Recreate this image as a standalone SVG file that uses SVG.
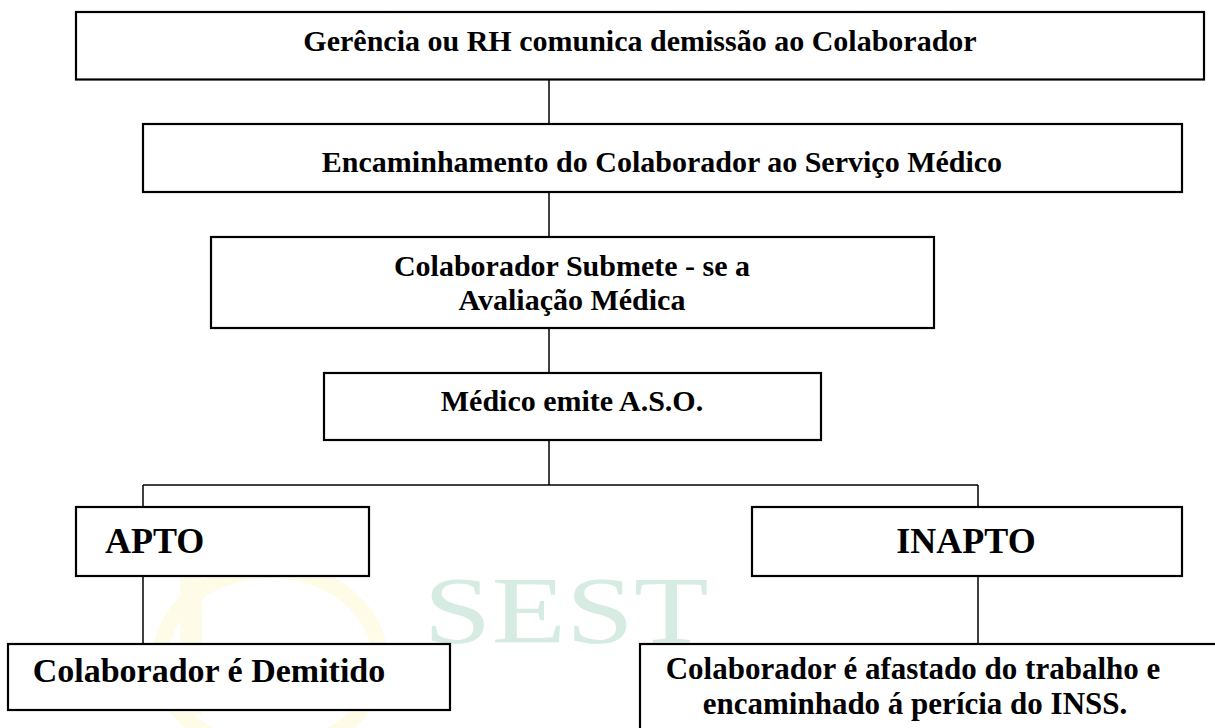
<svg xmlns="http://www.w3.org/2000/svg" width="1215" height="728" viewBox="0 0 1215 728">
<style>
.box{fill:#fff;stroke:#000;stroke-width:2.2}
.t{font-family:"Liberation Serif","Times New Roman",serif;font-weight:bold;fill:#000;text-anchor:middle}
.c{stroke:#000;stroke-width:1.5;fill:none}
</style>
<rect width="1215" height="728" fill="#fff"/>
<g id="watermark">
<ellipse cx="270" cy="660" rx="110" ry="90" fill="none" stroke="#fefce6" stroke-width="16"/>
<rect x="180" y="575" width="22" height="140" fill="#fefce8"/>
<text x="566" y="643" font-family="Liberation Serif, serif" font-size="96" fill="#d6ebe1" text-anchor="middle" textLength="285" lengthAdjust="spacingAndGlyphs">SEST</text>
</g>
<g id="connectors">
<line class="c" x1="549" y1="80" x2="549" y2="124"/>
<line class="c" x1="549" y1="192" x2="549" y2="237"/>
<line class="c" x1="549" y1="328" x2="549" y2="373"/>
<line class="c" x1="549" y1="441" x2="549" y2="485"/>
<line class="c" x1="143" y1="485" x2="978" y2="485"/>
<line class="c" x1="143" y1="485" x2="143" y2="507"/>
<line class="c" x1="978" y1="485" x2="978" y2="507"/>
<line class="c" x1="143" y1="576" x2="143" y2="644"/>
<line class="c" x1="978" y1="576" x2="978" y2="644"/>
</g>
<g id="n1"><rect class="box" x="76" y="12" width="1128" height="67.5"/><text class="t" x="640" y="51" font-size="30">Gerência ou RH comunica demissão ao Colaborador</text></g>
<g id="n2"><rect class="box" x="143" y="124" width="1039" height="68"/><text class="t" x="662" y="172" font-size="30">Encaminhamento do Colaborador ao Serviço Médico</text></g>
<g id="n3"><rect class="box" x="211" y="237" width="723" height="91"/><text class="t" font-size="30"><tspan x="572" y="276">Colaborador Submete - se a</tspan><tspan x="572" y="310">Avaliação Médica</tspan></text></g>
<g id="n4"><rect class="box" x="324" y="373" width="497" height="67"/><text class="t" x="572" y="411" font-size="30">Médico emite A.S.O.</text></g>
<g id="n5"><rect class="box" x="76" y="507" width="293" height="69"/><text class="t" x="105" y="553" font-size="36" style="text-anchor:start">APTO</text></g>
<g id="n6"><rect class="box" x="752" y="507" width="430" height="69"/><text class="t" x="966" y="553" font-size="36">INAPTO</text></g>
<g id="n7"><rect class="box" x="8" y="644" width="442" height="66"/><text class="t" x="209" y="682" font-size="34">Colaborador é Demitido</text></g>
<g id="n8"><rect class="box" x="640" y="644" width="600" height="100"/><text class="t" font-size="31"><tspan x="913" y="679">Colaborador é afastado do trabalho e</tspan><tspan x="915" y="714">encaminhado á perícia do INSS.</tspan></text></g>
</svg>
